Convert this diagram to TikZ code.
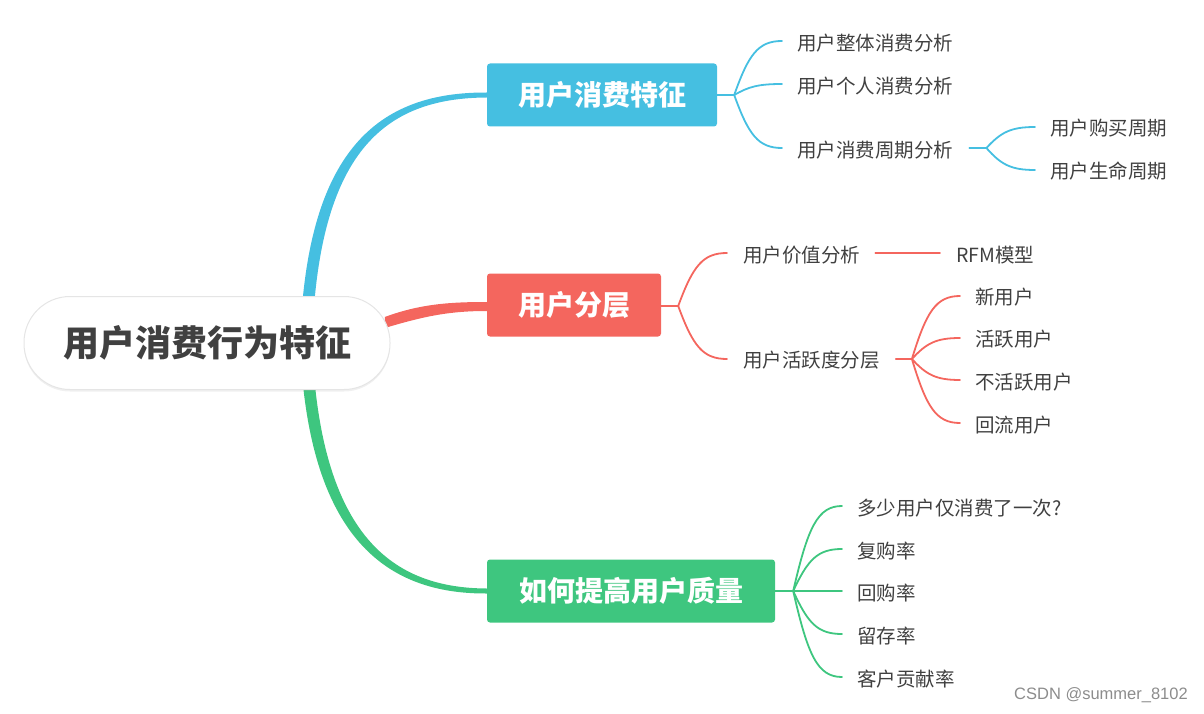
\documentclass[tikz,border=0pt]{standalone}
\usepackage{fontspec}
\setmainfont{Noto Sans CJK SC}
\newfontfamily\wmfont{Liberation Sans}
\usetikzlibrary{calc,shadows}
\definecolor{cblue}{HTML}{45BFE1}
\definecolor{cred}{HTML}{F4665E}
\definecolor{cgreen}{HTML}{3EC67F}
\definecolor{ctext}{HTML}{404040}
\newcommand\mbr[3]{\draw[#1] let \p1=(#2), \p2=(#3) in (\p1) .. controls ({\x1+0.3*(\x2-\x1)},{\y1+0.75*(\y2-\y1)}) and ({\x1+0.5*(\x2-\x1)},\y2) .. (\p2);}
\begin{document}
\begin{tikzpicture}[x=1pt,y=-1pt,
  rootbox/.style={rectangle, rounded corners=46pt, minimum width=366pt, minimum height=93pt, fill=white, draw=black!10, line width=1pt, drop shadow={opacity=0.12, shadow xshift=0pt, shadow yshift=-2pt}, font=\fontsize{36}{40}\selectfont\bfseries, text=ctext, inner sep=0pt},
  mainbox/.style={rectangle, rounded corners=3pt, minimum height=63pt, fill=#1, text=white, font=\fontsize{28}{32}\selectfont\bfseries, inner sep=0pt},
  leaf/.style={anchor=west, inner sep=0pt, text=ctext, font=\fontsize{19.5}{22}\selectfont},
  sub/.style={line width=1.8pt, #1, line cap=round},
]
\useasboundingbox (0,0) rectangle (1204,714);

% main branches (drawn first, behind root)
\node[mainbox=cblue, minimum width=230pt] (b1) at (602,95) {用户消费特征};
\node[mainbox=cred, minimum width=174pt] (b2) at (574,305) {用户分层};
\node[mainbox=cgreen, minimum width=288pt] (b3) at (631,591) {如何提高用户质量};
\coordinate (rs) at (306,343);

\fill[cblue] ($(rs)+(-6,0)$) .. controls ($(rs)+(0,-193)$) and ($(b1.west)+(-109,-3)$) .. ($(b1.west)+(0,-2.5)$)
  -- ($(b1.west)+(0,2.5)$) .. controls ($(b1.west)+(-103,3)$) and ($(rs)+(12,-191)$) .. ($(rs)+(6,0)$) -- cycle;
\fill[cgreen] ($(rs)+(-6,0)$) .. controls ($(rs)+(2,197)$) and ($(b3.west)+(-99,3)$) .. ($(b3.west)+(0,2.5)$)
  -- ($(b3.west)+(0,-2.5)$) .. controls ($(b3.west)+(-93,-3)$) and ($(rs)+(14,195)$) .. ($(rs)+(6,0)$) -- cycle;
\fill[cred] ($(b2.west)+(-102,12)$) .. controls ($(b2.west)+(-67,-1)$) and ($(b2.west)+(-37,-3)$) .. ($(b2.west)+(0,-3)$)
  -- ($(b2.west)+(0,6)$) .. controls ($(b2.west)+(-37,6)$) and ($(b2.west)+(-62,11)$) .. ($(b2.west)+(-102,23)$) -- cycle;

\node[rootbox] (root) at (207,343) {用户消费行为特征};

% branch 1 leaves
\node[leaf] (a1) at (797,43) {用户整体消费分析};
\node[leaf] (a2) at (797,86) {用户个人消费分析};
\node[leaf] (a3) at (797,150) {用户消费周期分析};
\node[leaf] (a31) at (1050,128) {用户购买周期};
\node[leaf] (a32) at (1050,171) {用户生命周期};
\coordinate (j1) at ($(b1.east)+(17,0)$);
\draw[sub=cblue] (b1.east) -- (j1);
\mbr{sub=cblue}{j1}{$(a1.west)+(-15,-2)$}
\mbr{sub=cblue}{j1}{$(a2.west)+(-15,-2)$}
\mbr{sub=cblue}{j1}{$(a3.west)+(-15,-2)$}
\coordinate (j3) at ($(a3.east)+(33,-2)$);
\draw[sub=cblue] ($(a3.east)+(16,-2)$) -- (j3);
\mbr{sub=cblue}{j3}{$(a31.west)+(-15,-1)$}
\mbr{sub=cblue}{j3}{$(a32.west)+(-15,-1)$}

% branch 2 leaves
\node[leaf] (v1) at (743,255) {用户价值分析};
\node[leaf] (rfm) at (956,255) {RFM模型};
\node[leaf] (v2) at (743,360) {用户活跃度分层};
\node[leaf] (u1) at (975,297) {新用户};
\node[leaf] (u2) at (975,339) {活跃用户};
\node[leaf] (u3) at (975,382) {不活跃用户};
\node[leaf] (u4) at (975,425) {回流用户};
\coordinate (j2) at ($(b2.east)+(17,1)$);
\draw[sub=cred] (b2.east) ++(0,1) -- (j2);
\mbr{sub=cred}{j2}{$(v1.west)+(-16,-2)$}
\mbr{sub=cred}{j2}{$(v2.west)+(-16,-1)$}
\draw[sub=cred] ($(v1.east)+(15,-2)$) -- ($(rfm.west)+(-16,-2)$);
\coordinate (j4) at ($(v2.east)+(32,-1)$);
\draw[sub=cred] ($(v2.east)+(16,-1)$) -- (j4);
\mbr{sub=cred}{j4}{$(u1.west)+(-15,-1)$}
\mbr{sub=cred}{j4}{$(u2.west)+(-15,-1)$}
\mbr{sub=cred}{j4}{$(u3.west)+(-15,-2)$}
\mbr{sub=cred}{j4}{$(u4.west)+(-15,-2)$}

% branch 3 leaves
\node[leaf] (g1) at (857,508) {多少用户仅消费了一次?};
\node[leaf] (g2) at (857,551) {复购率};
\node[leaf] (g3) at (857,593) {回购率};
\node[leaf] (g4) at (857,636) {留存率};
\node[leaf] (g5) at (857,679) {客户贡献率};
\coordinate (j5) at ($(b3.east)+(18,0)$);
\draw[sub=cgreen] (b3.east) -- (j5);
\mbr{sub=cgreen}{j5}{$(g1.west)+(-15,-2)$}
\mbr{sub=cgreen}{j5}{$(g2.west)+(-15,-2)$}
\mbr{sub=cgreen}{j5}{$(g3.west)+(-15,-2)$}
\mbr{sub=cgreen}{j5}{$(g4.west)+(-15,-2)$}
\mbr{sub=cgreen}{j5}{$(g5.west)+(-15,-2)$}

\node[anchor=west, inner sep=0pt, text=black!45, font=\wmfont\fontsize{16.5}{19}\selectfont] (wm) at (1014,695) {CSDN @summer\_8102};
\end{tikzpicture}
\end{document}
